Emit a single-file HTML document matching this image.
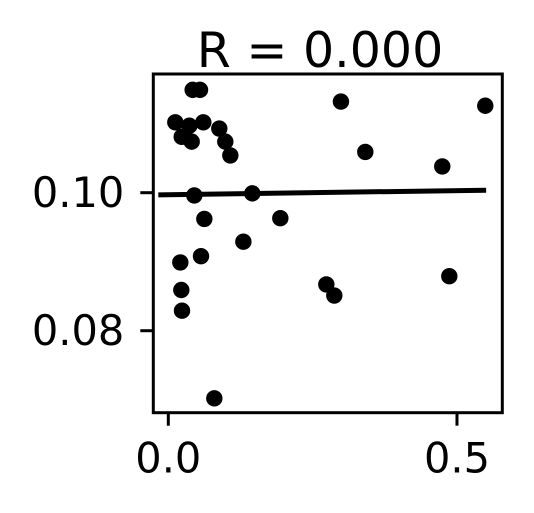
<!DOCTYPE html>
<html><head><meta charset="utf-8"><style>
html,body{margin:0;padding:0;background:#fff;width:534px;height:513px;overflow:hidden}
text{font-family:"DejaVu Sans","Liberation Sans",sans-serif;fill:#000}
</style></head><body>
<svg id="chart" width="534" height="513" viewBox="0 0 534 513" xmlns="http://www.w3.org/2000/svg">
<text x="320" y="67" font-size="49" text-anchor="middle">R = 0.000</text>
<g id="marks"></g>
<g id="axes"></g>
</svg>
<script>
const xValues=[0.0422,0.0549,0.299,0.549,0.0121,0.0364,0.0606,0.0883,0.0232,0.0405,0.0987,0.1074,0.3412,0.4745,0.045,0.1455,0.0624,0.194,0.130,0.0566,0.0208,0.4867,0.2737,0.2875,0.0225,0.0237,0.0797];
const yValues=[0.1149,0.1149,0.1132,0.1126,0.1102,0.1097,0.1102,0.1093,0.1081,0.1074,0.1074,0.1054,0.1059,0.1038,0.0996,0.0999,0.0962,0.0963,0.0929,0.0908,0.0899,0.0879,0.0867,0.0851,0.0859,0.0829,0.0702];
const fitX=[-0.0173,0.5505];
const fitY=[0.09969,0.10036];
const xTicks=[0.0,0.5];
const xTickLabels=["0.0","0.5"];
const yTicks=[0.08,0.10];
const yTickLabels=["0.08","0.10"];
const L=153.3,R=502.3,T=74,B=412.7;
const xMin=-0.026,xMax=0.5785,yMin=0.06812,yMax=0.1172;
const sx=v=>L+(v-xMin)/(xMax-xMin)*(R-L);
const sy=v=>B-(v-yMin)/(yMax-yMin)*(B-T);
const NS="http://www.w3.org/2000/svg";
const marks=document.getElementById('marks'),axes=document.getElementById('axes');
function mk(tag,attrs,parent){const e=document.createElementNS(NS,tag);for(const k in attrs)e.setAttribute(k,attrs[k]);parent.appendChild(e);return e;}
for(let i=0;i<xValues.length;i++){
 const c=mk('circle',{cx:sx(xValues[i]),cy:sy(yValues[i]),r:8.2,fill:'#000'},marks);
 
 
}
const fl=mk('line',{x1:sx(fitX[0]),y1:sy(fitY[0]),x2:sx(fitX[1]),y2:sy(fitY[1]),stroke:'#000','stroke-width':5},marks);


const fr=mk('rect',{x:L,y:T,width:R-L,height:B-T,fill:'none',stroke:'#000','stroke-width':3},axes);


xTicks.forEach((v,i)=>{
 const x=sx(v);
 const t=mk('line',{x1:x,y1:B,x2:x,y2:B+13,stroke:'#000','stroke-width':3},axes);
 
 
 const l=mk('text',{x:x,y:B+60,'font-size':41.5,'text-anchor':'middle'},axes);
 l.textContent=xTickLabels[i];
 
 
});
yTicks.forEach((v,i)=>{
 const y=sy(v);
 const t=mk('line',{x1:L-13,y1:y,x2:L,y2:y,stroke:'#000','stroke-width':3},axes);
 
 
 const l=mk('text',{x:L-29,y:y+14.5,'font-size':41.5,'text-anchor':'end'},axes);
 l.textContent=yTickLabels[i];
 
 
});
</script>
</body></html>
